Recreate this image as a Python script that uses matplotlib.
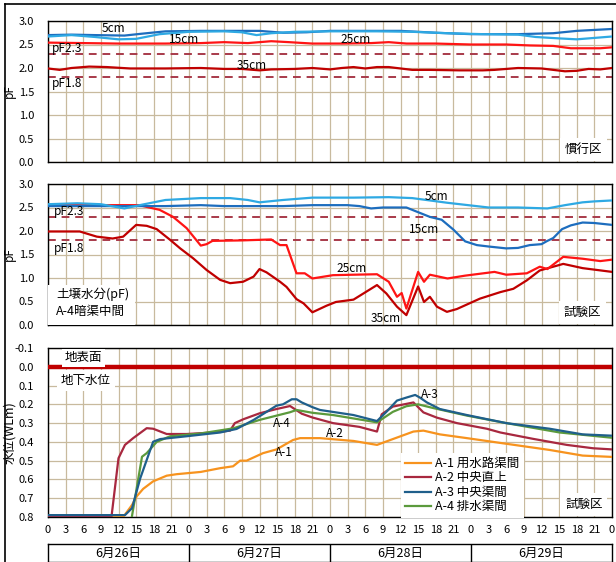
import matplotlib
matplotlib.use("Agg")
import matplotlib.pyplot as plt
from matplotlib.lines import Line2D
from matplotlib.patches import Rectangle

plt.rcParams['font.family'] = ['Noto Sans CJK JP', 'DejaVu Sans']

# ---------------- data ----------------
# hours since 0:00 on 6/26, soil moisture pF — conventional plot (慣行区)
conv_5_h = [0, 4, 8, 12, 15, 19, 24, 30, 33, 35.5, 38, 42, 48, 56, 62, 68, 74, 80, 83, 87, 90, 92, 96]
conv_5_v = [2.67, 2.70, 2.66, 2.61, 2.62, 2.72, 2.77, 2.78, 2.76, 2.70, 2.74, 2.77, 2.78, 2.78, 2.77, 2.74, 2.72, 2.71, 2.66, 2.63, 2.61, 2.63, 2.67]
conv_15_h = [0, 4, 8, 13, 16, 20, 26, 36, 40, 44, 48, 56, 60, 66, 72, 80, 86, 90, 96]
conv_15_v = [2.70, 2.71, 2.70, 2.69, 2.73, 2.78, 2.79, 2.79, 2.75, 2.76, 2.79, 2.79, 2.79, 2.75, 2.72, 2.72, 2.74, 2.79, 2.83]
conv_25_h = [0, 6, 12, 20, 26, 30, 34, 38, 41, 45, 50, 55, 58, 61, 66, 72, 78, 82, 86, 89, 94, 96]
conv_25_v = [2.54, 2.53, 2.52, 2.52, 2.53, 2.55, 2.53, 2.57, 2.55, 2.52, 2.52, 2.53, 2.55, 2.52, 2.52, 2.50, 2.50, 2.48, 2.47, 2.42, 2.42, 2.44]
conv_35_h = [0, 2, 4, 7, 10, 14, 20, 26, 30, 33, 36, 38, 42, 45, 48, 50, 52, 54, 56, 58, 60, 62, 65, 70, 74, 76, 80, 84, 88, 90, 92, 94, 96]
conv_35_v = [1.99, 1.96, 2.00, 2.03, 2.02, 1.99, 1.99, 2.00, 1.98, 1.98, 1.95, 1.97, 1.98, 2.00, 1.97, 2.00, 2.02, 1.99, 2.02, 2.02, 1.99, 1.96, 1.96, 1.95, 1.95, 1.96, 2.00, 1.99, 1.93, 1.94, 1.98, 1.97, 2.00]

# soil moisture pF — test plot (試験区, A-4 between drains)
test_5_h = [0, 5, 9, 13, 16, 20, 26, 31, 34, 36, 40, 45, 52, 58, 62, 68, 75, 80, 85, 88, 91, 93, 96]
test_5_v = [2.57, 2.59, 2.57, 2.48, 2.56, 2.66, 2.70, 2.70, 2.66, 2.61, 2.66, 2.71, 2.71, 2.72, 2.70, 2.60, 2.50, 2.50, 2.48, 2.55, 2.61, 2.63, 2.65]
test_15_h = [0, 10, 20, 26, 30, 40, 45, 51, 53, 55, 57, 61, 63, 65, 67, 69, 71, 73, 75, 78, 80, 82, 84, 85, 86, 87.5, 89, 91, 93, 96]
test_15_v = [2.53, 2.53, 2.53, 2.55, 2.53, 2.53, 2.55, 2.55, 2.53, 2.48, 2.50, 2.50, 2.40, 2.30, 2.24, 2.03, 1.78, 1.70, 1.67, 1.63, 1.64, 1.70, 1.72, 1.79, 1.85, 2.04, 2.12, 2.18, 2.17, 2.13]
test_25_h = [0, 15.5, 19, 21.3, 23.6, 26, 27, 28, 33, 38, 39.5, 40.6, 42.3, 43.7, 45, 48.5, 52, 56, 58, 59.4, 60.2, 61, 63, 64, 65, 68, 71, 76, 78, 81.5, 83.7, 85, 87.7, 91, 94, 96]
test_25_v = [2.55, 2.55, 2.45, 2.30, 2.06, 1.69, 1.72, 1.79, 1.80, 1.82, 1.70, 1.70, 1.10, 1.10, 0.99, 1.06, 1.07, 1.08, 0.92, 0.60, 0.68, 0.35, 1.13, 0.92, 1.07, 0.99, 1.05, 1.13, 1.07, 1.10, 1.24, 1.19, 1.45, 1.41, 1.36, 1.39]
test_35_h = [0, 5.4, 8.3, 11, 12.8, 15, 16.8, 18.5, 20.8, 22.5, 24.7, 27, 29.3, 31, 33.2, 35, 36, 37.2, 39.5, 40.6, 42.3, 43.5, 45, 47.4, 49, 52, 56, 57.6, 59.4, 61, 63, 64, 65, 66.2, 67.9, 69.6, 73.5, 77, 79.2, 81.5, 83.7, 87.7, 91, 96]
test_35_v = [1.99, 1.99, 1.88, 1.84, 1.88, 2.13, 2.11, 2.04, 1.81, 1.63, 1.42, 1.17, 0.96, 0.89, 0.92, 1.03, 1.19, 1.12, 0.92, 0.81, 0.55, 0.46, 0.27, 0.41, 0.49, 0.54, 0.85, 0.67, 0.39, 0.21, 0.82, 0.49, 0.60, 0.39, 0.28, 0.34, 0.56, 0.70, 0.77, 0.95, 1.16, 1.30, 1.21, 1.13]

pf_limits = [2.3, 1.8]

# groundwater level below surface (m)
a1_h = [0, 12.8, 14.3, 15.1, 16.2, 17.9, 20.2, 21.9, 26, 29.3, 31.5, 32.7, 33.8, 36.6, 38.9, 41.7, 42.9, 46.3, 52, 56, 58.7, 62.2, 63.9, 66.7, 71.3, 78, 85.4, 91, 96]
a1_v = [0.80, 0.80, 0.736, 0.69, 0.65, 0.61, 0.58, 0.572, 0.56, 0.54, 0.53, 0.50, 0.50, 0.46, 0.44, 0.39, 0.38, 0.38, 0.395, 0.416, 0.385, 0.345, 0.34, 0.36, 0.38, 0.41, 0.443, 0.473, 0.48]
a2_h = [0, 10.8, 12, 13.1, 14.5, 16.8, 17.9, 20.2, 23.6, 28.1, 31, 31.8, 33.2, 36, 38.9, 41.2, 43.2, 45, 48.5, 53, 56, 56.8, 58.7, 62.2, 63.9, 66.2, 69.6, 74.7, 77, 82.6, 88.3, 92.8, 96]
a2_v = [0.80, 0.80, 0.487, 0.416, 0.38, 0.327, 0.33, 0.358, 0.358, 0.35, 0.34, 0.30, 0.28, 0.248, 0.225, 0.209, 0.25, 0.27, 0.30, 0.32, 0.345, 0.253, 0.212, 0.19, 0.243, 0.271, 0.30, 0.33, 0.35, 0.384, 0.416, 0.434, 0.44]
a3_h = [0, 13.1, 14.3, 15.7, 17.9, 19.1, 23.6, 29.3, 32.1, 35, 38.9, 40, 41.5, 42.3, 43.2, 45, 46.3, 52, 56, 57.6, 59.4, 61, 62.5, 63.3, 64.5, 66.7, 71.3, 78, 85.4, 91, 96]
a3_v = [0.79, 0.79, 0.753, 0.594, 0.399, 0.385, 0.37, 0.35, 0.331, 0.283, 0.207, 0.20, 0.173, 0.173, 0.19, 0.215, 0.23, 0.257, 0.289, 0.24, 0.18, 0.164, 0.15, 0.164, 0.19, 0.225, 0.257, 0.30, 0.33, 0.36, 0.367]
a4_h = [0, 14.0, 16, 16.8, 18.5, 20.8, 26, 31.5, 36, 41.2, 42.3, 45, 48.5, 56, 58.7, 61, 63, 65.6, 71.3, 78, 87.1, 96]
a4_v = [0.85, 0.85, 0.479, 0.46, 0.40, 0.37, 0.355, 0.328, 0.283, 0.242, 0.23, 0.245, 0.257, 0.296, 0.24, 0.21, 0.20, 0.22, 0.26, 0.30, 0.35, 0.378]

wl_names = ['A-1 用水路渠間', 'A-2 中央直上', 'A-3 中央渠間', 'A-4 排水渠間']
days = ['6月26日', '6月27日', '6月28日', '6月29日']
hour_ticks = list(range(0, 97, 3))

# ---------------- style ----------------
GRID = '#C8BA9E'
C5, C15, C25, C35 = '#2EA9E3', '#1D6DBE', '#FF1414', '#C00000'
CDASH = '#A83A4A'
CA = ['#F7931E', '#A8283F', '#1F5F8B', '#5B9A3C']

W, H = 616, 562
fig = plt.figure(figsize=(W / 100, H / 100), dpi=100)


def px_axes(x0, y0, x1, y1):
    return fig.add_axes([x0 / W, 1 - y1 / H, (x1 - x0) / W, (y1 - y0) / H])


def base(ax, ylim, yticks, fmt):
    ax.set_xlim(0, 96)
    ax.set_ylim(*ylim)
    ax.set_xticks(hour_ticks)
    ax.set_yticks(yticks)
    ax.set_yticklabels([fmt % v for v in yticks])
    ax.grid(True, color=GRID, lw=0.9)
    ax.set_axisbelow(True)
    for s in ax.spines.values():
        s.set_color('black')
        s.set_linewidth(1.0)
    ax.tick_params(axis='y', length=0, pad=10, labelsize=8)
    ax.tick_params(axis='x', length=0, labelbottom=False)


def side_label(ax, text, size):
    ax.set_ylabel(text, fontsize=size, labelpad=0)
    ax.yaxis.label.set_va('center')
    ax.yaxis.set_label_coords(-0.068, 0.5)


ax1 = px_axes(48, 21, 612, 162)
ax2 = px_axes(48, 184, 612, 325)
ax3 = px_axes(48, 348, 612, 517)

pf_ticks = [0.0, 0.5, 1.0, 1.5, 2.0, 2.5, 3.0]
for ax in (ax1, ax2):
    base(ax, (0, 3.0), pf_ticks, '%.1f')
    side_label(ax, 'pF', 8.5)
    for v in pf_limits:
        ax.axhline(v, color=CDASH, lw=1.4, ls=(0, (4, 3)), zorder=2)

LW = 1.6
# conventional plot
ax1.plot(conv_35_h, conv_35_v, color=C35, lw=LW, zorder=3)
ax1.plot(conv_25_h, conv_25_v, color=C25, lw=LW, zorder=3)
ax1.plot(conv_15_h, conv_15_v, color=C15, lw=LW, zorder=3)
ax1.plot(conv_5_h, conv_5_v, color=C5, lw=LW, zorder=3)

lab = dict(fontsize=8.5, ha='center', va='center', zorder=5)
ax1.text(11.2, 2.85, '5cm', **lab)
ax1.text(23.1, 2.61, '15cm', **lab)
ax1.text(52.3, 2.6, '25cm', **lab)
ax1.text(34.7, 2.05, '35cm', **lab)
ax1.text(3.2, 2.41, 'pF2.3', **lab)
ax1.text(3.2, 1.68, 'pF1.8', **lab)
ax1.text(91.2, 0.27, '慣行区', fontsize=9, ha='center', va='center', zorder=6,
         bbox=dict(fc='white', ec='none', pad=3.5))

# test plot
ax2.plot(test_35_h, test_35_v, color=C35, lw=LW, zorder=3)
ax2.plot(test_25_h, test_25_v, color=C25, lw=LW, zorder=3)
ax2.plot(test_15_h, test_15_v, color=C15, lw=LW, zorder=3)
ax2.plot(test_5_h, test_5_v, color=C5, lw=LW, zorder=3)

ax2.text(66.2, 2.74, '5cm', **lab)
ax2.text(64.0, 2.04, '15cm', **lab)
ax2.text(51.6, 1.21, '25cm', **lab)
ax2.text(57.5, 0.14, '35cm', **lab)
ax2.text(3.6, 2.41, 'pF2.3', **lab)
ax2.text(3.6, 1.62, 'pF1.8', **lab)
ax2.add_patch(Rectangle((0, 0), 0.154, 0.284, transform=ax2.transAxes,
                        fc='white', ec='none', zorder=4))
ax2.text(1.4, 0.66, '土壌水分(pF)', fontsize=9, ha='left', va='center', zorder=5)
ax2.text(1.4, 0.28, 'A-4暗渠中間', fontsize=9, ha='left', va='center', zorder=5)
ax2.text(91.0, 0.27, '試験区', fontsize=9, ha='center', va='center', zorder=6,
         bbox=dict(fc='white', ec='none', pad=3.5))

# groundwater level
wl_ticks = [round(-0.1 + 0.1 * i, 1) for i in range(10)]
base(ax3, (0.8, -0.1), wl_ticks, '%.1f')
ax3.yaxis.set_major_formatter(plt.FuncFormatter(lambda v, p: ('%.1f' % v).replace('-0.0', '0.0')))
side_label(ax3, '水位(WLm)', 9)
ax3.tick_params(axis='x', labelbottom=True, labelsize=8, pad=6)
ax3.set_xticklabels([str(h % 24) for h in hour_ticks])
ax3.axhline(0.0, color='#C00000', lw=3.2, zorder=4)

series = [(a1_h, a1_v), (a2_h, a2_v), (a3_h, a3_v), (a4_h, a4_v)]
order = [0, 1, 3, 2]
handles = [None] * 4
for i in order:
    h, v = series[i]
    ax3.plot(h, v, color=CA[i], lw=LW, zorder=3)
    handles[i] = Line2D([], [], color=CA[i], lw=LW)

ax3.text(39.8, 0.30, 'A-4', **lab)
ax3.text(40.1, 0.455, 'A-1', **lab)
ax3.text(48.9, 0.355, 'A-2', **lab)
ax3.text(65.0, 0.145, 'A-3', **lab)
ax3.text(2.9, -0.047, '地表面', fontsize=9, ha='left', va='center', zorder=6,
         bbox=dict(fc='white', ec='none', pad=2))
ax3.text(2.2, 0.072, '地下水位', fontsize=9, ha='left', va='center', zorder=6,
         bbox=dict(fc='white', ec='none', pad=3))
ax3.text(91.2, 0.735, '試験区', fontsize=9, ha='center', va='center', zorder=6,
         bbox=dict(fc='white', ec='none', pad=3.5))
leg = ax3.legend(handles, wl_names, loc='lower left', bbox_to_anchor=(0.625, -0.005),
                 fontsize=9, frameon=True, fancybox=False, framealpha=1,
                 handlelength=2.1, handletextpad=0.3, labelspacing=0.12,
                 borderpad=0.35, borderaxespad=0)
leg.get_frame().set_edgecolor('none')
leg.get_frame().set_facecolor('white')
leg.set_zorder(7)

# date strip under the hour axis
ax4 = px_axes(48, 544, 612, 562)
ax4.set_xlim(0, 96)
ax4.set_ylim(0, 1)
ax4.set_xticks([])
ax4.set_yticks([])
for s in ax4.spines.values():
    s.set_color('black')
    s.set_linewidth(1.0)
for d in range(1, 4):
    ax4.axvline(24 * d, color='black', lw=1.0)
for d, name in enumerate(days):
    ax4.text(24 * d + 12, 0.5, name, fontsize=9, ha='center', va='center')

# outer frame
fig.add_artist(Line2D([4.5 / W, 4.5 / W], [0, 1 - 3.5 / H], color='black', lw=1.2, transform=fig.transFigure))
fig.add_artist(Line2D([4.5 / W, 1], [1 - 3.5 / H, 1 - 3.5 / H], color='black', lw=1.2, transform=fig.transFigure))

fig.savefig('out.png', dpi=100)
